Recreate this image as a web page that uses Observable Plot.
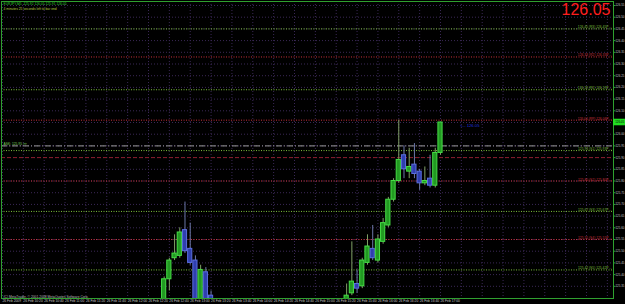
<!DOCTYPE html>
<html><head><meta charset="utf-8">
<script src="https://cdn.jsdelivr.net/npm/d3@7"></script>
<script src="https://cdn.jsdelivr.net/npm/@observablehq/plot@0.6"></script>
<style>
html,body{margin:0;padding:0;background:#000;}
#chart{width:625px;height:304px;overflow:hidden;}
svg{display:block;}
</style></head><body><div id="chart"></div>
<script>
// ---- texts ----
const symbolTitle = "EURJPY,M5  125.92 126.05 125.91 126.05";
const subTitle = "4 minutes 25 seconds left to bar end";
const bigPrice = "126.05";
const currentPrice = 126.05;
const arrowNote = "<-- 126.05";
const askNote = "ASK: 125.95 >>";
const copyright = "(C) MetaTrader, \u00a9 2001-2008 MetaQuotes Software Corp.";

// ---- candles (EURJPY M5, 26 Feb 2009) ----
const candleTimes = ["12:35","12:40","12:45","12:50","12:55","13:00","13:05","13:10","13:15","13:20",
  "15:30","15:35","15:40","15:45","15:50","15:55","16:00","16:05","16:10","16:15",
  "16:20","16:25","16:30","16:35","16:40","16:45","16:50","16:55","17:00"];
const opens  = [125.25,125.38,125.47,125.48,125.59,125.51,125.46,125.28,125.41,125.31,
  125.28,125.32,125.36,125.35,125.45,125.51,125.46,125.54,125.61,125.72,
  125.80,125.91,125.84,125.87,125.84,125.79,125.81,125.78,125.92];
const highs  = [125.39,125.47,125.57,125.60,125.71,125.62,125.48,125.44,125.43,125.33,
  125.36,125.54,125.42,125.47,125.57,125.61,125.57,125.64,125.73,125.81,
  126.06,125.95,125.94,125.96,125.85,125.86,125.91,125.94,126.05];
const lows   = [125.22,125.33,125.46,125.47,125.49,125.44,125.24,125.26,125.25,125.24,
  125.27,125.31,125.32,125.34,125.44,125.46,125.45,125.53,125.60,125.71,
  125.79,125.81,125.81,125.81,125.76,125.78,125.77,125.77,125.91];
const closes = [125.38,125.46,125.49,125.58,125.50,125.45,125.27,125.42,125.27,125.26,
  125.31,125.37,125.34,125.46,125.52,125.47,125.55,125.62,125.72,125.80,
  125.89,125.85,125.86,125.83,125.79,125.80,125.78,125.92,126.05];

// ---- horizontal levels ----
const levelPrices = [126.45,126.33,126.19,126.06,125.93,125.80,125.67,125.55,125.42];
const levelKinds  = ["g","r","g","r","g","r","g","r","g"];
const levelLabels = ["126.45 (R3) 126.45P --","126.33 (R2) 126.33P --","126.19 (R1) 126.19P --",
  "126.06 (PP) 126.06P --","125.93 (S1) 125.93P --","125.80 (S2) 125.80P --",
  "125.67 (S3) 125.67P --","125.55 (S4) 125.55P --","125.42 (S5) 125.42P --"];
const askPrice = 125.95;
const dashedRedPrice = 125.90;

// ---- axes ----
const priceTickLabels = ["125.35","125.40","125.45","125.50","125.55","125.60","125.65","125.70",
  "125.75","125.80","125.85","125.90","125.95","126.00","126.05","126.10","126.15","126.20",
  "126.25","126.30","126.35","126.40","126.45","126.50","126.55"];
const timeLabelTimes = ["10:00","10:20","10:40","11:00","11:20","11:40","12:00","12:20","12:40",
  "13:00","13:20","13:40","14:00","14:20","14:40","15:00","15:20","15:40","16:00","16:20","16:40","17:00"];
const timeLabels = ["26 Feb 2009","26 Feb 10:20","26 Feb 10:40","26 Feb 11:00","26 Feb 11:20",
  "26 Feb 11:40","26 Feb 12:00","26 Feb 12:20","26 Feb 12:40","26 Feb 13:00","26 Feb 13:20",
  "26 Feb 13:40","26 Feb 14:00","26 Feb 14:20","26 Feb 14:40","26 Feb 15:00","26 Feb 15:20",
  "26 Feb 15:40","26 Feb 16:00","26 Feb 16:20","26 Feb 16:40","26 Feb 17:00"];

// ---- build ----
const MIN = 60000;
const T = s => { const [h, m] = s.split(":").map(Number); return new Date(Date.UTC(2009, 1, 26, h, m)); };
const t0 = T("10:00");
const candles = candleTimes.map((t, i) => ({t: T(t), o: opens[i], h: highs[i], l: lows[i], c: closes[i]}));
const levels = levelPrices.map((p, i) => ({p, kind: levelKinds[i], label: levelLabels[i]}));
const priceTicks = priceTickLabels.map(Number);
const axisTicks = priceTicks.filter(p => Math.abs(p - currentPrice) > 1e-6);
const timeTicks = timeLabelTimes.map((t, i) => ({t: T(t), label: timeLabels[i]}));
const gridTimes = d3.range(0, 30).map(k => new Date(+t0 + k * 20 * MIN));
const xDomain = [new Date(+t0 - 0.96 * MIN), new Date(+t0 + 585.9 * MIN)];
const boxX2 = new Date(+xDomain[1] + 11.5 * MIN);

const lvlColor = k => k === "g" ? "#7cbf3a" : "#c8303a";
const font = "Liberation Sans, Arial, sans-serif";
const fs = 3.3, afs = 2.9;

const chart = Plot.plot({
  width: 625, height: 304,
  marginLeft: 1, marginRight: 12, marginTop: 1, marginBottom: 6,
  style: {background: "#000", color: "#c8c8c8", fontFamily: font, fontSize: fs + "px"},
  x: {type: "time", domain: xDomain, axis: null},
  y: {domain: [125.2979, 126.5671], axis: null},
  marks: [
    // grid
    Plot.ruleY(priceTicks, {stroke: "#3a2856", strokeDasharray: "1,2"}),
    Plot.ruleX(gridTimes, {stroke: "#3a2856", strokeDasharray: "1,2", clip: true}),
    // levels
    Plot.ruleY(levels, {y: "p", stroke: d => lvlColor(d.kind), strokeDasharray: "1,1.5"}),
    Plot.ruleY([dashedRedPrice], {stroke: "#8a1e2c", strokeDasharray: "4,2"}),
    Plot.ruleY([askPrice], {stroke: "#9a9a9a", strokeDasharray: "6,2,1,2"}),
    Plot.text(levels, {y: "p", text: "label", frameAnchor: "right", textAnchor: "end", lineAnchor: "bottom", dx: -2, dy: -0.5,
      fill: d => lvlColor(d.kind), fontSize: fs}),
    // candles
    Plot.ruleX(candles, {x: "t", y1: "l", y2: "h", stroke: d => d.c >= d.o ? "#7f9f66" : "#6c78a8", clip: true}),
    Plot.rect(candles, {x1: d => new Date(+d.t - 2 * MIN), x2: d => new Date(+d.t + 2 * MIN), y1: "o", y2: "c",
      fill: d => d.c >= d.o ? "#229922" : "#2f3fae", stroke: d => d.c >= d.o ? "#45dd45" : "#5b6ee0", strokeWidth: 1, clip: true}),
    // notes
    Plot.text([arrowNote], {x: () => new Date(+t0 + 439 * MIN), y: () => currentPrice - 0.012, textAnchor: "start",
      fill: "#2233dd", fontSize: 4.2}),
    Plot.text([askNote], {y: () => askPrice + 0.008, frameAnchor: "left", textAnchor: "start", dx: 2, fill: "#7ccf5a", fontSize: fs}),
    Plot.text([copyright], {frameAnchor: "bottom-left", textAnchor: "start", lineAnchor: "bottom", dx: 2, dy: -1, fill: "#bdbdbd", fontSize: fs}),
    Plot.text([symbolTitle], {frameAnchor: "top-left", textAnchor: "start", lineAnchor: "top", dx: 2, dy: 1.5, fill: "#2ec82e", fontSize: fs}),
    Plot.text([subTitle], {frameAnchor: "top-left", textAnchor: "start", lineAnchor: "top", dx: 2, dy: 6, fill: "#b8d040", fontSize: fs}),
    Plot.text([bigPrice], {frameAnchor: "top-right", textAnchor: "end", lineAnchor: "top", dx: -3, dy: 2,
      fill: "#ff1e1e", fontSize: 16, fontFamily: font}),
    // frame & axes
    Plot.frame({stroke: "#2fa02f"}),
    Plot.axisY(axisTicks, {anchor: "right", tickSize: 1.5, tickPadding: 0.5, tickFormat: d => d.toFixed(2),
      stroke: "#2fa02f", fill: "#c0c0c0", fontSize: afs}),
    Plot.rect([currentPrice], {x1: () => xDomain[1], x2: () => boxX2, y1: d => d - 0.014, y2: d => d + 0.014, fill: "#22dd22"}),
    Plot.text([currentPrice], {x: () => new Date(+xDomain[1] + 1.6 * MIN), y: d => d, text: d => d.toFixed(2),
      textAnchor: "start", fill: "#000", fontSize: afs}),
    Plot.text(timeTicks, {x: "t", text: "label", frameAnchor: "bottom", textAnchor: "start", lineAnchor: "top", dx: 0, dy: 1.2,
      fill: "#c8c8c8", fontSize: fs})
  ]
});
document.getElementById("chart").append(chart);
</script></body></html>
